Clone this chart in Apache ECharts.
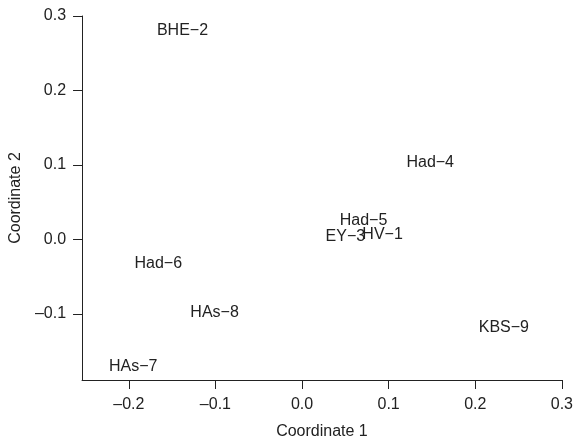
<!DOCTYPE html>
<html>
<head>
<meta charset="utf-8">
<script src="https://cdn.jsdelivr.net/npm/echarts@6/dist/echarts.min.js"></script>
<style>html,body{margin:0;padding:0;background:#fff;}#c{width:576px;height:445px;}</style>
</head>
<body>
<div id="c"></div>
<script>
const names = ['HV-1','BHE-2','EY-3','Had-4','Had-5','Had-6','HAs-7','HAs-8','KBS-9'];
const coord1 = [0.093, -0.138, 0.050, 0.148, 0.071, -0.166, -0.195, -0.101, 0.233];
const coord2 = [0.006, 0.280, 0.003, 0.103, 0.025, -0.032, -0.171, -0.099, -0.119];
const xTicks = [-0.2, -0.1, 0.0, 0.1, 0.2, 0.3];
const yTicks = [-0.1, 0.0, 0.1, 0.2, 0.3];

const fmt = v => (v < -1e-9 ? '\u2013' : '') + Math.abs(v).toFixed(1);
const data = names.map((n, i) => [coord1[i], coord2[i], n.replace('-', '\u2212')]);
const font = 'Liberation Sans, Arial, sans-serif';
const col = '#222';

const chart = echarts.init(document.getElementById('c'), null, {renderer: 'canvas'});
chart.setOption({
  animation: false,
  backgroundColor: '#fff',
  grid: {left: 78, right: 12, top: 16, bottom: 62, containLabel: false},
  xAxis: {
    type: 'value', min: -0.254, max: 0.3,
    name: 'Coordinate 1', nameLocation: 'middle', nameGap: 44,
    nameTextStyle: {color: col, fontSize: 16, fontFamily: font},
    splitLine: {show: false},
    axisLine: {show: true, onZero: false, lineStyle: {color: col, width: 1}},
    axisTick: {show: true, length: 9, customValues: xTicks, lineStyle: {color: col}},
    axisLabel: {customValues: xTicks, formatter: fmt, color: col, fontSize: 16, fontFamily: font, margin: 17}
  },
  yAxis: {
    type: 'value', min: -0.189, max: 0.3,
    name: 'Coordinate 2', nameLocation: 'middle', nameGap: 52, nameRotate: 90,
    nameTextStyle: {color: col, fontSize: 16, fontFamily: font},
    splitLine: {show: false},
    axisLine: {show: true, onZero: false, lineStyle: {color: col, width: 1}},
    axisTick: {show: true, length: 9, customValues: yTicks, lineStyle: {color: col}},
    axisLabel: {customValues: yTicks, formatter: fmt, color: col, fontSize: 16, fontFamily: font, margin: 16}
  },
  series: [{
    type: 'scatter',
    symbol: 'circle',
    symbolSize: 1,
    data: data,
    itemStyle: {color: 'transparent', opacity: 1},
    label: {
      show: true, position: 'inside',
      formatter: p => p.data[2],
      color: col, opacity: 1, fontSize: 16, fontFamily: font,
      textBorderWidth: 0, textBorderColor: 'transparent'
    },
    labelLayout: {hideOverlap: false},
    emphasis: {disabled: true}
  }]
});
</script>
</body>
</html>
